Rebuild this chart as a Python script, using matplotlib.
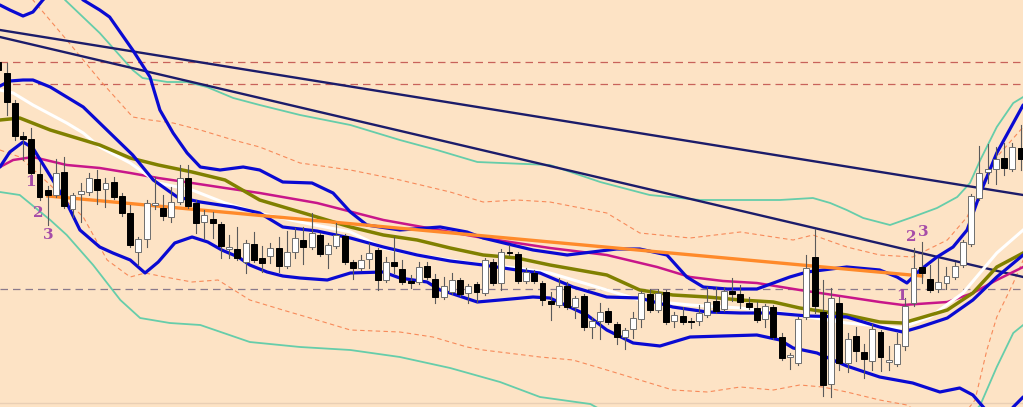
import numpy as np
import matplotlib
matplotlib.use("Agg")
import matplotlib.pyplot as plt
from matplotlib.patches import Rectangle

BASE = 407.0

# ---------------- candles (levels, top-down) ----------------
opens = [62, 73, 103, 136, 139, 174, 190, 195, 172, 209, 194, 192, 179, 189, 182, 196, 213, 252, 239, 205,
         208, 217, 202, 178, 203, 222, 219, 224, 249, 249, 262, 244, 258, 256, 248, 266, 252, 240, 247, 235,
         254, 246, 236, 262, 268, 259, 250, 280, 262, 269, 281, 282, 266, 279, 297, 292, 280, 293, 284, 293,
         262, 283, 252, 254, 281, 273, 283, 301, 305, 286, 307, 296, 327, 321, 311, 324, 337, 329, 319, 294,
         310, 292, 321, 316, 321, 321, 315, 301, 309, 291, 294, 303, 308, 319, 307, 337, 357, 363, 317, 257,
         312, 384, 303, 363, 336, 352, 361, 332, 362, 364, 346, 303, 267, 279, 289, 283, 277, 265, 244, 198,
         172, 169, 158, 169, 148]
highs = [58, 63, 100, 132, 128, 163, 186, 159, 157, 193, 183, 173, 170, 178, 177, 193, 205, 237, 200, 177,
         195, 187, 165, 165, 200, 210, 212, 222, 235, 227, 240, 232, 246, 243, 237, 231, 228, 227, 213, 233,
         243, 223, 234, 260, 255, 243, 248, 257, 237, 260, 275, 262, 262, 274, 277, 273, 278, 284, 282, 258,
         259, 249, 245, 252, 268, 270, 281, 292, 278, 282, 296, 294, 317, 303, 308, 322, 328, 312, 291, 289,
         289, 290, 312, 307, 318, 305, 287, 287, 287, 278, 285, 297, 302, 304, 305, 333, 353, 317, 255, 229,
         280, 288, 297, 333, 327, 344, 324, 330, 346, 333, 298, 248, 242, 265, 258, 267, 262, 240, 194, 146,
         144, 147, 143, 143, 125]
lows = [74, 115, 140, 160, 176, 200, 225, 197, 208, 217, 222, 195, 204, 207, 199, 216, 247, 265, 247, 209,
        220, 222, 204, 208, 233, 239, 238, 258, 258, 260, 273, 262, 272, 263, 272, 268, 258, 264, 249, 256,
        268, 248, 264, 279, 270, 268, 290, 282, 273, 284, 288, 284, 279, 303, 299, 294, 296, 303, 302, 295,
        285, 290, 255, 283, 283, 283, 305, 320, 307, 309, 318, 330, 338, 339, 324, 344, 349, 338, 327, 312,
        312, 324, 327, 324, 328, 325, 317, 313, 311, 301, 308, 309, 322, 327, 339, 360, 369, 365, 319, 313,
        396, 397, 370, 372, 361, 378, 370, 371, 370, 366, 350, 306, 283, 292, 292, 289, 279, 267, 246, 200,
        183, 184, 175, 171, 170]
closes = [70, 102, 136, 139, 173, 197, 195, 173, 206, 195, 191, 178, 190, 183, 197, 213, 245, 239, 203, 203,
          216, 202, 178, 206, 223, 215, 223, 246, 247, 258, 243, 260, 263, 248, 266, 252, 238, 247, 233, 254,
          245, 235, 262, 268, 260, 253, 280, 262, 266, 282, 283, 267, 277, 297, 286, 280, 294, 286, 292, 260,
          283, 252, 253, 281, 272, 281, 300, 304, 286, 307, 298, 327, 321, 312, 322, 337, 330, 318, 293, 310,
          293, 322, 315, 322, 322, 313, 302, 311, 291, 294, 302, 307, 320, 306, 337, 358, 355, 319, 268, 306,
          385, 298, 363, 339, 351, 359, 329, 357, 360, 344, 306, 268, 273, 290, 282, 276, 266, 242, 196, 173,
          169, 159, 168, 147, 159]

# ---------------- indicator knots: (bar index, level) ----------------
bb_upper_x = [0.2, 1.4, 3.0, 4.2, 5.4, 7.85, 10.3, 12.3, 13.5, 16.3, 18.4, 19.6, 21.2, 22.9, 24.5, 26.9, 29.7,
              31.7, 34.5, 38.05, 40.6, 42.7, 44.7, 48.7, 53.6, 56.85, 58.8, 64.85, 69.0, 75.0, 77.8, 81.1, 83.5,
              85.5, 88.4, 92.0, 94.0, 96.0, 98.1, 102.9, 106.9, 109.0, 110.2, 111.8, 113.85, 115.8, 117.5,
              119.1, 121.1, 123.1, 124.3]
bb_upper_y = [5, 10, 16, 12, 0, -20, 0, 10, 17, 50, 77, 110, 133, 153, 167, 170, 167,
              170, 182, 183, 193, 212, 225, 230, 227, 232, 238, 250, 255, 249, 249, 255, 277,
              287, 289, 289, 283, 277, 272, 267, 270, 277, 283, 270, 257, 247, 230,
              193, 153, 123, 105]

bb_mid_x = [0.2, 1.4, 3.0, 4.2, 6.3, 8.3, 10.3, 12.3, 16.3, 18.8, 21.7, 24.5, 28.5, 31.7, 34.5, 38.65, 42.7,
            46.7, 50.8, 54.8, 58.8, 62.9, 65.7, 69.7, 73.8, 77.8, 81.8, 86.0, 90.0, 94.0, 98.1, 102.9, 106.9,
            109.7, 111.8, 115.1, 118.2, 121.1, 124.3]
bb_mid_y = [86, 81, 80, 80, 87, 97, 107, 123, 155, 180, 197, 202, 207, 213, 227, 231, 238,
            247, 255, 261, 265, 270, 273, 287, 297, 298, 307, 312, 313, 313, 316, 317, 327,
            332, 327, 318, 300, 277, 255]

bb_lower_x = [0.2, 1.4, 3.0, 4.2, 6.6, 8.3, 9.9, 12.3, 13.9, 16.0, 17.8, 19.4, 21.4, 23.5, 25.4, 27.1, 29.1,
              30.5, 32.6, 34.5, 36.6, 39.9, 42.7, 46.7, 48.7, 52.0, 53.6, 54.8, 58.1, 60.85, 64.85, 66.9, 71.4,
              73.8, 77.0, 80.25, 83.9, 87.9, 92.0, 94.8, 96.4, 99.3, 102.9, 106.9, 110.9, 114.2, 116.6, 118.2,
              120.3, 122.1, 123.1, 124.3]
bb_lower_y = [167, 152, 142, 148, 180, 203, 230, 247, 253, 260, 273, 262, 243, 237, 242, 250, 257,
              265, 272, 276, 278, 280, 273, 272, 278, 282, 290, 293, 302, 300, 297, 298, 315,
              330, 343, 346, 337, 336, 335, 340, 348, 353, 366, 377, 383, 392, 388, 395,
              415, 418, 407, 397]

ma_white_x = [0.2, 1.8, 4.2, 8.3, 10.3, 12.3, 16.0, 19.4, 23.5, 27.5, 31.1, 36.6, 42.7, 46.7, 50.8, 54.8,
              58.8, 62.9, 66.9, 71.8, 77.8, 83.9, 90.0, 96.0, 102.9, 109.4, 113.0, 117.0, 121.1, 124.3]
ma_white_y = [90, 93, 105, 123, 133, 147, 163, 183, 190, 203, 212, 222, 232, 248, 255, 260,
              265, 268, 273, 285, 300, 305, 308, 314, 323, 328, 317, 293, 253, 230]

ma_olive_x = [0.2, 2.6, 6.3, 10.3, 12.3, 16.0, 19.4, 23.5, 27.5, 31.7, 38.65, 42.7, 46.7, 50.8, 54.8, 58.8,
              62.9, 66.9, 73.8, 77.8, 81.8, 86.0, 90.0, 94.0, 97.2, 102.9, 106.9, 109.7, 111.8, 115.1, 118.2,
              121.1, 124.3]
ma_olive_y = [120, 118, 130, 140, 145, 158, 165, 172, 180, 200, 217, 227, 235, 240, 248, 255,
              258, 265, 275, 290, 295, 297, 300, 302, 308, 315, 322, 323, 318, 310, 293,
              267, 253]

ma_magenta_x = [0.2, 1.8, 4.2, 8.3, 12.3, 16.0, 19.4, 23.5, 27.5, 31.7, 38.65, 46.7, 54.8, 58.8, 62.9, 66.9,
                73.8, 79.9, 83.9, 87.9, 92.0, 97.2, 102.9, 106.9, 109.7, 115.1, 118.2, 121.1, 124.3]
ma_magenta_y = [167, 160, 157, 165, 168, 173, 178, 183, 188, 193, 203, 220, 232, 238, 243, 248,
                255, 267, 277, 281, 283, 290, 297, 302, 305, 302, 293, 280, 267]

env_upper_x = [0.2, 5.1, 8.1, 12.3, 16.3, 17.5, 20.5, 22.9, 25.3, 28.5, 31.7, 36.6, 42.7, 48.7, 53.2, 58.1,
               66.9, 73.0, 79.0, 85.1, 94.8, 98.8, 100.9, 102.9, 104.9, 108.15, 110.9, 113.85, 116.3, 117.85,
               119.1, 121.1, 123.1, 124.3]
env_upper_y = [-90, -40, 0, 33, 70, 78, 82, 82, 87, 98, 105, 115, 125, 140, 150, 162,
               165, 182, 195, 200, 200, 198, 203, 210, 218, 225, 217, 208, 197, 183,
               160, 127, 103, 97]

env_lower_x = [0.2, 2.6, 6.3, 8.3, 11.5, 14.8, 17.2, 20.8, 24.5, 30.5, 36.6, 42.7, 48.7, 54.8, 60.85, 65.7,
               71.8, 75.4, 85.1, 109.4, 116.6, 119.1, 121.1, 123.1, 124.3]
env_lower_y = [192, 195, 220, 235, 265, 300, 318, 323, 325, 342, 347, 350, 357, 368, 382, 397,
               404, 420, 440, 450, 430, 405, 367, 333, 325]

dash_upper_x = [0.2, 2.6, 4.2, 8.3, 12.3, 16.3, 18.4, 21.2, 24.5, 28.5, 31.7, 36.6, 42.7, 48.7, 54.8, 58.8,
                62.9, 66.9, 73.8, 77.8, 83.9, 90.0, 94.0, 96.4, 98.8, 102.9, 106.9, 110.9, 115.1, 117.5,
                119.1, 121.1, 124.3]
dash_upper_y = [-40, -15, 0, 40, 80, 117, 120, 123, 130, 140, 147, 163, 170, 180, 192, 202,
                200, 202, 213, 233, 238, 232, 237, 240, 235, 247, 255, 257, 240, 217,
                187, 157, 127]

dash_lower_x = [0.2, 2.6, 6.3, 10.3, 13.2, 16.0, 17.8, 20.2, 23.5, 26.65, 30.5, 34.5, 38.65, 42.7, 48.7, 52.7,
                56.85, 58.8, 65.7, 69.7, 73.8, 77.8, 81.8, 86.0, 90.0, 94.0, 97.2, 100.0, 102.9, 106.9, 110.2,
                113.0, 116.6, 118.46, 119.9, 121.1, 123.1, 124.3]
dash_lower_y = [150, 157, 185, 217, 260, 277, 273, 277, 282, 280, 300, 310, 320, 330, 332, 337,
                347, 350, 357, 360, 370, 380, 390, 392, 387, 390, 385, 387, 392, 400, 405,
                420, 420, 400, 350, 317, 283, 260]

# trend lines: (bar index start, level start, bar index end, level end)
trend_navy_1 = (0.2, 30, 124.3, 195)
trend_navy_2 = (0.2, 37, 124.3, 277)
trend_orange = (6.0, 196, 112.0, 276)

# horizontal levels
levels_red = [62, 84]
level_grey = 289

# wave labels: (bar index, level, text)
wave_labels = [(3.85, 182, "1"), (4.8, 213, "2"), (6.0, 235, "3"),
               (109.6, 296, "1"), (110.7, 237, "2"), (112.2, 232, "3")]

# ---------------- drawing ----------------
def px(levels):
    return BASE - np.asarray(levels, dtype=float)

BG = "#fde3c5"
fig = plt.figure(figsize=(10.23, 4.07), dpi=100, facecolor=BG)
ax = fig.add_axes([0, 0, 1, 1])
ax.set_facecolor(BG)
ax.set_xlim(0.206, 124.28)
ax.set_ylim(0, 407)
ax.axis("off")

# horizontal dashed levels
for lv in levels_red:
    ax.axhline(px(lv), color="#c8625a", lw=0.9, ls=(0, (6, 4)), zorder=1)
ax.axhline(px(level_grey), color="#8a7a8c", lw=0.9, ls=(0, (6, 4)), zorder=1)
ax.axhline(px(403), color="#e9cfb5", lw=1.0, zorder=1)

# envelopes / bands
ax.plot(env_upper_x, px(env_upper_y), color="#66cdaa", lw=1.3, zorder=2)
ax.plot(env_lower_x, px(env_lower_y), color="#66cdaa", lw=1.3, zorder=2)
ax.plot(dash_upper_x, px(dash_upper_y), color="#f78a5a", lw=0.8, ls=(0, (4, 3)), zorder=2)
ax.plot(dash_lower_x, px(dash_lower_y), color="#f78a5a", lw=0.8, ls=(0, (4, 3)), zorder=2)

# navy trend lines
for x0, y0, x1, y1 in (trend_navy_1, trend_navy_2):
    ax.plot([x0, x1], px([y0, y1]), color="#1c1c6a", lw=1.7, zorder=3)

# moving averages
ax.plot(ma_magenta_x, px(ma_magenta_y), color="#c8168a", lw=1.8, zorder=3, solid_joinstyle="round")
ax.plot(ma_white_x, px(ma_white_y), color="#ffffff", lw=2.2, zorder=3, solid_joinstyle="round")
ax.plot(ma_olive_x, px(ma_olive_y), color="#808000", lw=2.5, zorder=3, solid_joinstyle="round")

# blue bands
for xs, ys in ((bb_upper_x, bb_upper_y), (bb_mid_x, bb_mid_y), (bb_lower_x, bb_lower_y)):
    ax.plot(xs, px(ys), color="#0a0ad2", lw=2.3, zorder=4,
            solid_capstyle="round", solid_joinstyle="round")

# orange trend line
x0, y0, x1, y1 = trend_orange
ax.plot([x0, x1], px([y0, y1]), color="#ff8a2a", lw=2.4, zorder=4)

# candles
O, H, L, C = px(opens), px(highs), px(lows), px(closes)
w = 0.72
for i in range(len(O)):
    ax.plot([i, i], [L[i], H[i]], color="#5a5a5a", lw=0.8, zorder=5)
    bull = C[i] >= O[i]
    lo, hi = min(O[i], C[i]), max(O[i], C[i])
    h = max(hi - lo, 0.9)
    ax.add_patch(Rectangle((i - w / 2, lo), w, h,
                           facecolor="#ffffff" if bull else "#000000",
                           edgecolor="#6e6e6e" if bull else "#000000",
                           lw=0.7, zorder=6))

# wave labels
for xi, lv, t in wave_labels:
    ax.text(xi, px(lv), t, color="#a64ca8", fontsize=11, fontweight="bold",
            family="DejaVu Serif", ha="center", va="center", zorder=7)

fig.savefig("out.png", dpi=100, facecolor=BG)
